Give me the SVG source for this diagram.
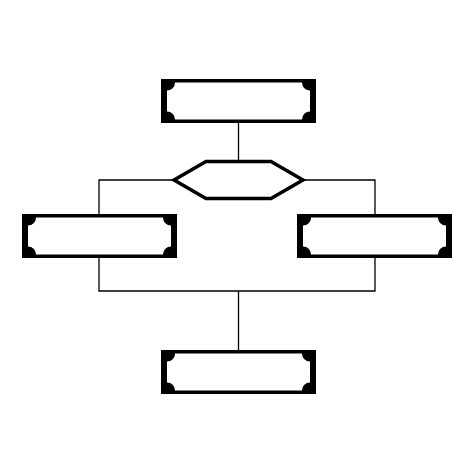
<svg xmlns="http://www.w3.org/2000/svg" xmlns:xlink="http://www.w3.org/1999/xlink" width="474" height="474" viewBox="0 0 474 474">
<style>
.frame{fill:#000;}
.inner{fill:#fff;}
.conn{fill:none;stroke:#000;stroke-width:1.3;}
.hex{fill:#fff;stroke:#000;stroke-width:3.5;stroke-linejoin:miter;}
</style>
<defs>
<g id="plaque">
<rect class="frame" x="0" y="0" width="155" height="44"/>
<path class="inner" d="M 14 3.5 H 141 A 8 8 0 0 0 149 11.5 V 32.5 A 8 8 0 0 0 141 40.5 H 14 A 8 8 0 0 0 6 32.5 V 11.5 A 8 8 0 0 0 14 3.5 Z"/>
</g>
</defs>
<rect width="474" height="474" fill="#fff"/>
<g id="connectors">
<path class="conn" d="M 238.5 123 V 161"/>
<path class="conn" d="M 173 180 H 99 V 214"/>
<path class="conn" d="M 304 180 H 375 V 214"/>
<path class="conn" d="M 99 258 V 291 H 375 V 258"/>
<path class="conn" d="M 238.5 291 V 350"/>
</g>
<g id="node-top"><use xlink:href="#plaque" x="161" y="79"/></g>
<g id="node-decision"><polygon class="hex" points="174,180 206,161.5 271,161.5 303,180 271,198.5 206,198.5"/></g>
<g id="node-left"><use xlink:href="#plaque" x="22" y="214"/></g>
<g id="node-right"><use xlink:href="#plaque" x="297" y="214"/></g>
<g id="node-bottom"><use xlink:href="#plaque" x="161" y="350"/></g>
</svg>
